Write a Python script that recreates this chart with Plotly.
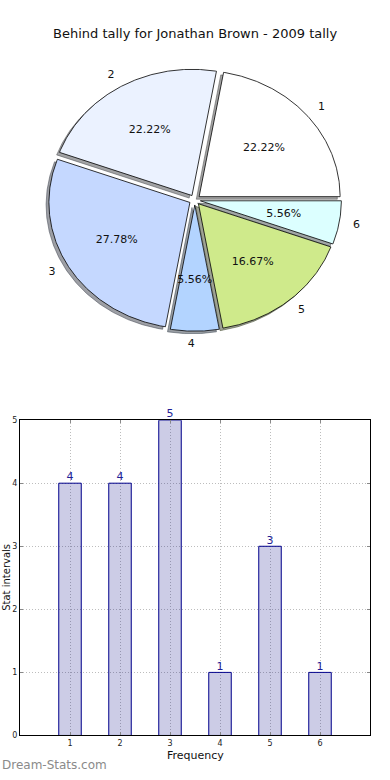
import math
import plotly.graph_objects as go

# ---------------- data ----------------
chart_title = "Behind tally for Jonathan Brown - 2009 tally"
categories = [1, 2, 3, 4, 5, 6]
counts = [4, 4, 5, 1, 3, 1]
slice_labels = ["1", "2", "3", "4", "5", "6"]
slice_colors = ["#FFFFFF", "#EBF2FF", "#C5D8FF", "#B3D4FF", "#CFEA8B", "#DCFFFF"]
y_ticks = [0, 1, 2, 3, 4, 5]
x_ticks = [1, 2, 3, 4, 5, 6]
x_label = "Frequency"
y_label = "Stat intervals"
watermark = "Dream-Stats.com"

# ---------------- layout constants ----------------
W, H = 390, 780
FONT = "DejaVu Sans"
CX, CY = 194.8, 198.2      # pie centre (px)
RX, RY = 141.0, 127.7      # pie radii (px), matplotlib pie on a non-square axes
EXPLODE = 0.04
SHADOW_OFF = 0.02
PCTDIST = 0.6
LABELDIST = 1.1
PIE_TOP, PIE_BOT = 20, 380  # px rows of the pie axes

fig = go.Figure()

total = sum(counts)


def rgb(hexc):
    hexc = hexc.lstrip("#")
    return tuple(int(hexc[i:i + 2], 16) for i in (0, 2, 4))


# compute wedges
wedges = []
start = 0.0
for lab, v, col in zip(slice_labels, counts, slice_colors):
    span = 360.0 * v / total
    a0, a1 = start, start + span
    mid = math.radians((a0 + a1) / 2)
    ox, oy = EXPLODE * math.cos(mid), EXPLODE * math.sin(mid)
    n = max(8, int(span * 2))
    xs, ys = [ox], [oy]
    for k in range(n + 1):
        t = math.radians(a0 + span * k / n)
        xs.append(ox + math.cos(t))
        ys.append(oy + math.sin(t))
    xs.append(ox)
    ys.append(oy)
    wedges.append(dict(lab=lab, v=v, col=col, xs=xs, ys=ys, mid=mid, ox=ox, oy=oy))
    start = a1

# shadows first (below all wedges)
for w in wedges:
    r, g, b = rgb(w["col"])
    sc = f"rgba({int(r*0.3)},{int(g*0.3)},{int(b*0.3)},0.5)"
    fig.add_trace(go.Scatter(
        x=[x - SHADOW_OFF for x in w["xs"]], y=[y - SHADOW_OFF for y in w["ys"]],
        xaxis="x2", yaxis="y2", mode="lines", fill="toself", fillcolor=sc,
        line=dict(color=sc, width=1), hoverinfo="skip", showlegend=False))

for w in wedges:
    fig.add_trace(go.Scatter(
        x=w["xs"], y=w["ys"], xaxis="x2", yaxis="y2", mode="lines", fill="toself",
        fillcolor=w["col"], line=dict(color="black", width=0.8),
        hoverinfo="skip", showlegend=False))

# percentage texts
fig.add_trace(go.Scatter(
    x=[w["ox"] + PCTDIST * math.cos(w["mid"]) for w in wedges],
    y=[w["oy"] + PCTDIST * math.sin(w["mid"]) for w in wedges],
    text=[f"{100.0 * w['v'] / total:.2f}%" for w in wedges],
    mode="text", textposition="middle center", xaxis="x2", yaxis="y2",
    textfont=dict(family=FONT, size=11, color="#111111"),
    hoverinfo="skip", showlegend=False))

# slice labels
for w in wedges:
    lx = w["ox"] + LABELDIST * math.cos(w["mid"])
    ly = w["oy"] + LABELDIST * math.sin(w["mid"])
    fig.add_trace(go.Scatter(
        x=[lx], y=[ly], text=[w["lab"]], mode="text",
        textposition="middle right" if lx > 0 else "middle left",
        xaxis="x2", yaxis="y2",
        textfont=dict(family=FONT, size=11, color="#111111"),
        hoverinfo="skip", showlegend=False))

# ---------------- bar chart ----------------
fig.add_trace(go.Bar(
    x=categories, y=counts, width=0.45,
    marker=dict(color="rgba(0,0,128,0.2)", line=dict(color="#00008B", width=1)),
    hoverinfo="skip", showlegend=False, xaxis="x", yaxis="y"))

fig.add_trace(go.Scatter(
    x=categories, y=counts, text=[str(c) for c in counts], mode="text",
    textposition="top center", cliponaxis=False,
    textfont=dict(family=FONT, size=11, color="#1e1e96"),
    hoverinfo="skip", showlegend=False, xaxis="x", yaxis="y"))

BAR_L, BAR_R, BAR_T, BAR_B = 20, 370, 421, 740

axis_common = dict(
    showline=True, linecolor="black", linewidth=1, mirror="ticks",
    ticks="inside", ticklen=3, tickcolor="#888888",
    showgrid=True, gridcolor="#bdbdbd", griddash="1px,2px", gridwidth=1,
    zeroline=False, tickfont=dict(family=FONT, size=8, color="#222222"),
    fixedrange=True,
)

fig.update_layout(
    width=W, height=H,
    margin=dict(l=0, r=0, t=0, b=0),
    paper_bgcolor="white", plot_bgcolor="rgba(0,0,0,0)",
    font=dict(family=FONT, color="#111111"),
    showlegend=False,
    xaxis=dict(domain=[BAR_L / W, BAR_R / W], range=[0, 7], tickvals=x_ticks,
               anchor="y", **axis_common),
    yaxis=dict(domain=[1 - BAR_B / H, 1 - BAR_T / H], range=[0, 5], tickvals=y_ticks,
               anchor="x", **axis_common),
    xaxis2=dict(domain=[0, 1], range=[-CX / RX, (W - CX) / RX], visible=False,
                anchor="y2", fixedrange=True),
    yaxis2=dict(domain=[1 - PIE_BOT / H, 1 - PIE_TOP / H],
                range=[-(PIE_BOT - CY) / RY, (CY - PIE_TOP) / RY], visible=False,
                anchor="x2", fixedrange=True),
    annotations=[
        dict(text=chart_title, x=0.5, y=1 - 30 / H, xref="paper", yref="paper",
             showarrow=False, font=dict(family=FONT, size=13, color="#111111"),
             xanchor="center", yanchor="middle"),
        dict(text=x_label, x=(BAR_L + BAR_R) / 2 / W, y=1 - 760 / H, xref="paper", yref="paper",
             showarrow=False, font=dict(family=FONT, size=11, color="#111111"),
             xanchor="center", yanchor="middle"),
        dict(text=y_label, x=0, y=1 - 580 / H, xref="paper", yref="paper",
             showarrow=False, textangle=-90, font=dict(family=FONT, size=10, color="#111111"),
             xanchor="left", yanchor="middle", borderpad=0),
        dict(text=watermark, x=0, y=1 - 770 / H, xref="paper", yref="paper",
             showarrow=False, font=dict(family=FONT, size=12, color="#8a8a8a"),
             xanchor="left", yanchor="middle"),
    ],
)

fig.write_html("out.html", config={"displayModeBar": False},
               post_script="document.body.style.margin='0';")
